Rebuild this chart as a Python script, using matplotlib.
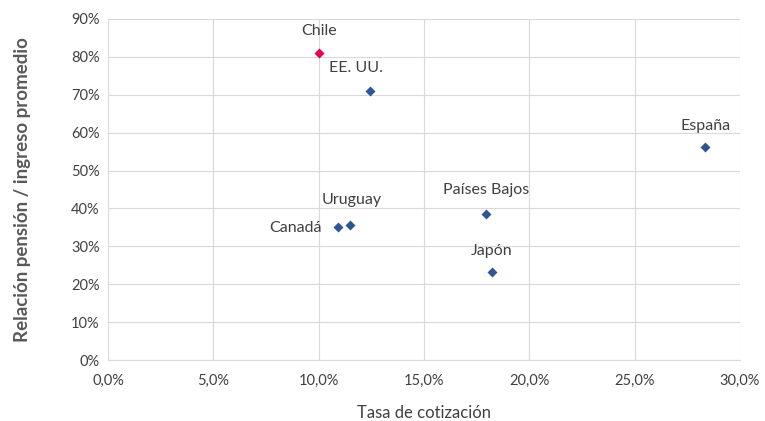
import matplotlib
matplotlib.use("Agg")
import matplotlib.pyplot as plt
from matplotlib.ticker import FuncFormatter

plt.rcParams['font.family'] = ['Lato', 'DejaVu Sans']

countries = ["Chile", "EE. UU.", "España", "Países Bajos", "Uruguay", "Canadá", "Japón"]
tasa = [10.0, 12.45, 28.35, 17.95, 11.5, 10.9, 18.25]          # % x
relacion = [81.0, 71.0, 56.3, 38.5, 35.7, 35.2, 23.2]          # % y
colors = ["#E8004F", "#2F5597", "#2F5597", "#2F5597", "#2F5597", "#2F5597", "#2F5597"]

# label offsets in pixels (dx, dy, ha)
offsets = {
    "Chile": (0, 22, "center"),
    "EE. UU.": (-14, 23, "center"),
    "España": (0, 21, "center"),
    "Países Bajos": (0, 24, "center"),
    "Uruguay": (1, 25, "center"),
    "Canadá": (-16, -1, "right"),
    "Japón": (-1, 21, "center"),
}

fig = plt.figure(figsize=(7.65, 4.21), dpi=100)
ax = fig.add_axes([108/765, 1-360/421, (740-108)/765, (360-19)/421])

for c, x, y, col in zip(countries, tasa, relacion, colors):
    ax.scatter(x, y, marker="D", s=26, color=col, zorder=3, linewidths=0)
    dx, dy, ha = offsets[c]
    ax.annotate(c, (x, y), xytext=(dx, dy), textcoords="offset pixels",
                ha=ha, va="center", fontsize=11.5, color="#404040")

ax.set_xlim(0, 30)
ax.set_ylim(0, 90)
ax.set_xticks(range(0, 31, 5))
ax.set_yticks(range(0, 91, 10))
ax.xaxis.set_major_formatter(FuncFormatter(lambda v, p: f"{v:.1f}%".replace(".", ",")))
ax.yaxis.set_major_formatter(FuncFormatter(lambda v, p: f"{v:.0f}%"))
ax.grid(True, color="#D9D9D9", linewidth=0.8)
ax.set_axisbelow(True)
for s in ax.spines.values():
    s.set_visible(False)
ax.spines["bottom"].set_visible(True)
ax.spines["bottom"].set_color("#D9D9D9")
ax.tick_params(length=0, labelsize=10.5, colors="#404040", pad=10)
ax.tick_params(axis="y", pad=6)

ax.set_xlabel("Tasa de cotización", fontsize=12, color="#404040", labelpad=12)
ax.set_ylabel("Relación pensión / ingreso promedio", fontsize=13.5, color="#595959",
              fontweight="bold", labelpad=29)

fig.savefig("out.png", dpi=100)
